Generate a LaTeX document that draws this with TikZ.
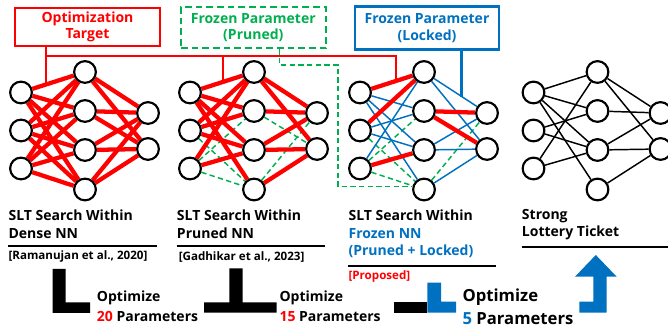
\documentclass[tikz,border=0pt]{standalone}
\usepackage{fontspec}
\setmainfont{Open Sans}
\usetikzlibrary{backgrounds}
\definecolor{cred}{HTML}{FF0000}
\definecolor{cgreen}{HTML}{00B050}
\definecolor{cblue}{HTML}{0070C0}
\newcommand\mknet[2]{%
  \node[neur] (#1i1) at (#2+21,92.5) {};
  \node[neur] (#1i2) at (#2+21,130.5) {};
  \node[neur] (#1i3) at (#2+21,168.5) {};
  \node[neur] (#1h1) at (#2+85,72) {};
  \node[neur] (#1h2) at (#2+85,111) {};
  \node[neur] (#1h3) at (#2+85,150) {};
  \node[neur] (#1h4) at (#2+85,189.5) {};
  \node[neur] (#1o1) at (#2+148,113) {};
  \node[neur] (#1o2) at (#2+148,149) {};
}
\begin{document}
\begin{tikzpicture}[x=0.75pt,y=-0.75pt,
  neur/.style={circle,draw=black,line width=1.6pt,fill=white,minimum size=16.3pt,inner sep=0pt},
  redE/.style={draw=cred,line width=3.2pt},
  blueE/.style={draw=cblue,line width=1.1pt},
  grnE/.style={draw=cgreen,line width=1.1pt,dash pattern=on 4pt off 2.5pt},
  blkE/.style={draw=black,line width=1.1pt},
  boxtxt/.style={font=\bfseries\fontsize{10.5}{12.5}\selectfont,align=center,inner sep=0pt},
  captxt/.style={anchor=west,font=\bfseries\fontsize{10.5}{12}\selectfont,inner sep=0pt},
  smalltxt/.style={anchor=west,font=\bfseries\fontsize{8.7}{10}\selectfont,inner sep=0pt},
  uline/.style={draw=black,line width=1.5pt},
  connline/.style={line width=1.5pt}]
\useasboundingbox (0,0) rectangle (668,331);

% networks
\mknet{a}{0}
\mknet{b}{169}
\mknet{c}{339}
\mknet{d}{512.5}

\begin{pgfonlayer}{background}
% net 1: dense
\foreach \p in {1,2,3} \foreach \q in {1,2,3,4} \draw[redE] (ai\p) -- (ah\q);
\foreach \p in {1,2,3,4} \foreach \q in {1,2} \draw[redE] (ah\p) -- (ao\q);
% net 2: pruned
\foreach \s/\t in {i3/h4,i3/h2,i2/h4,h2/o2,h4/o1} \draw[grnE] (b\s) -- (b\t);
\foreach \s/\t in {i1/h1,i1/h2,i1/h3,i1/h4,i2/h1,i2/h2,i2/h3,i3/h1,i3/h3,
  h1/o1,h1/o2,h2/o1,h3/o1,h3/o2,h4/o2} \draw[redE] (b\s) -- (b\t);
% net 3: frozen
\foreach \s/\t in {i3/h4,i3/h2,i2/h4,h4/o1} \draw[grnE] (c\s) -- (c\t);
\foreach \s/\t in {i1/h2,i1/h3,i1/h4,i2/h2,i2/h3,i3/h1,h1/o1,h1/o2,h3/o1,h3/o2,h4/o2}
  \draw[blueE] (c\s) -- (c\t);
\foreach \s/\t in {i1/h1,i2/h1,i3/h3,h2/o1,h2/o2} \draw[redE] (c\s) -- (c\t);
% net 4: SLT
\foreach \s/\t in {i1/h1,i1/h2,i1/h3,i1/h4,i2/h2,i2/h3,i3/h1,i3/h3,
  h1/o1,h1/o2,h2/o1,h3/o1,h3/o2,h4/o2} \draw[blkE] (d\s) -- (d\t);
\end{pgfonlayer}

% top boxes
\node[boxtxt,draw=cred,line width=1.5pt,text=cred,minimum width=109pt,minimum height=28.5pt] (opt) at (87.5,26.7) {Optimization\\Target};
\node[boxtxt,draw=cgreen,line width=1.5pt,dash pattern=on 5pt off 3pt,text=cgreen,minimum width=108.5pt,minimum height=31pt] (prn) at (253.3,27.7) {Frozen Parameter\\(Pruned)};
\node[boxtxt,draw=cblue,line width=2.2pt,text=cblue,minimum width=108pt,minimum height=32pt] (lck) at (427,27.9) {Frozen Parameter\\(Locked)};

% connectors from boxes
\coordinate (r1) at (45.7,56);
\coordinate (r2) at (223.3,56);
\coordinate (r3) at (396,56);
\coordinate (e1) at (45.7,84);
\coordinate (e2) at (223.3,81);
\coordinate (e3) at (396,80);
\draw[connline,cred] (opt.south -| r1) -- (e1);
\draw[connline,cred] (r1) -- (r3) -- (e3);
\draw[connline,cred] (r2) -- (e2);
\coordinate (g1) at (279.3,65);
\coordinate (g2) at (338,65);
\coordinate (g3) at (338,186.5);
\coordinate (g4) at (412,186.5);
\draw[cgreen,line width=1.1pt,dash pattern=on 4pt off 2.5pt] (prn.south -| g1) -- (g1) -- (g2) -- (g3) -- (g4);
\coordinate (bl) at (461.7,97);
\draw[cblue,line width=2.2pt] (lck.south -| bl) -- (bl);

% captions
\node[captxt] (c1a) at (8.3,215.7) {SLT Search Within};
\node[captxt] (c1b) at (8.3,233.3) {Dense NN};
\draw[uline] (8.3,246) -- (156.7,246);
\node[smalltxt] (c1r) at (8.3,256.7) {[Ramanujan et al., 2020]};

\node[captxt] (c2a) at (176.7,215.7) {SLT Search Within};
\node[captxt] (c2b) at (176.7,233.3) {Pruned NN};
\draw[uline] (176.7,246) -- (325,246);
\node[smalltxt] (c2r) at (178.5,256.7) {[Gadhikar et al., 2023]};

\node[captxt] (c3a) at (348.3,215.7) {SLT Search Within};
\node[captxt,text=cblue] (c3b) at (348.3,233.3) {Frozen NN};
\node[captxt,text=cblue] (c3c) at (348.3,251.7) {(Pruned + Locked)};
\draw[uline] (348.3,266) -- (495.7,266);
\node[smalltxt,text=cred] (c3r) at (348.3,276) {[Proposed]};

\node[captxt] (c4a) at (521.7,215.7) {Strong};
\node[captxt] (c4b) at (521.7,233.3) {Lottery Ticket};
\draw[uline] (521.7,246.7) -- (668,246.7);

% bottom flow shapes
\fill[black] (52.5,269) -- (65.5,269) -- (65.5,302.5) -- (90,302.5) -- (90,313) -- (52.5,313) -- cycle;
\fill[black] (229.3,268.3) -- (242.7,268.3) -- (242.7,302.3) -- (276.7,302.3) -- (276.7,312.7) -- (204,312.7) -- (204,302.3) -- (229.3,302.3) -- cycle;
\fill[black] (394,301.7) rectangle (427.3,312.7);
\fill[cblue] (427.3,282.7) -- (441,282.7) -- (441,301.7) -- (456,301.7) -- (456,312.7) -- (427.3,312.7) -- cycle;
\fill[cblue] (579.3,301.7) -- (593.3,301.7) -- (593.3,276.7) -- (575,276.7) -- (595.8,255) -- (616.7,276.7) -- (606.7,276.7) -- (606.7,312.7) -- (579.3,312.7) -- cycle;

% bottom texts
\node[captxt] (t1a) at (96.7,298.3) {Optimize};
\node[captxt] (t1b) at (96.7,316.7) {\textcolor{cred}{20} Parameters};
\node[captxt] (t2a) at (279.3,298.3) {Optimize};
\node[captxt] (t2b) at (279.3,316.7) {\textcolor{cred}{15} Parameters};
\node[captxt,font=\bfseries\fontsize{12.5}{14}\selectfont] (t3a) at (462.3,296.7) {Optimize};
\node[captxt,font=\bfseries\fontsize{12.5}{14}\selectfont] (t3b) at (462.3,318.3) {\textcolor{cblue}{5} Parameters};
\end{tikzpicture}
\end{document}
